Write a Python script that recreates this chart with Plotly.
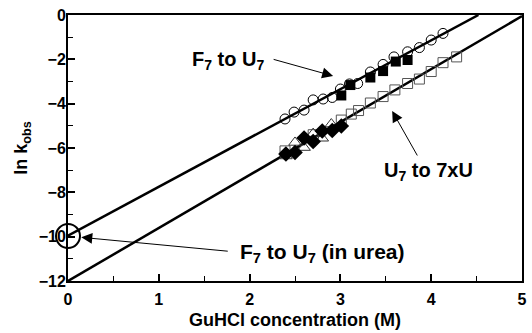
import plotly.graph_objects as go

# ---- data ----
circ_x = [2.39, 2.49, 2.60, 2.70, 2.81, 2.91, 3.00, 3.10, 3.19, 3.33, 3.47, 3.59, 3.74, 3.87, 4.00, 4.13]
circ_y = [-4.69, -4.38, -4.29, -3.83, -3.79, -3.72, -3.34, -3.11, -3.09, -2.57, -2.23, -1.89, -1.66, -1.47, -1.13, -0.83]

fsq_x = [3.01, 3.11, 3.33, 3.47, 3.61, 3.74]
fsq_y = [-3.63, -3.16, -2.82, -2.53, -2.10, -2.03]

osq_x = [2.39, 2.70, 3.01, 3.12, 3.20, 3.33, 3.47, 3.60, 3.74, 3.87, 4.00, 4.13, 4.28]
osq_y = [-6.13, -5.40, -4.74, -4.47, -4.31, -3.97, -3.68, -3.38, -3.09, -2.89, -2.55, -2.15, -1.89]

dia_x = [2.40, 2.50, 2.60, 2.70, 2.80, 2.91, 3.01]
dia_y = [-6.27, -6.20, -5.55, -5.71, -5.23, -5.21, -5.01]

tri_x = [2.40, 2.50, 2.60, 2.70, 2.80, 2.90]
tri_y = [-6.36, -5.75, -5.98, -5.35, -5.56, -4.92]

fit1_x = [0.0, 4.52]
fit1_y = [-9.95, 0.0]
fit2_x = [0.0, 5.0]
fit2_y = [-12.0, -0.05]

urea_x = [0.0]
urea_y = [-9.97]

x_ticks = [0, 1, 2, 3, 4, 5]
y_ticks = [0, -2, -4, -6, -8, -10, -12]

FONT = "Liberation Sans, Arial, sans-serif"

fig = go.Figure()
fig.add_trace(go.Scatter(x=fit1_x, y=fit1_y, mode="lines", line=dict(color="black", width=2.5), cliponaxis=False))
fig.add_trace(go.Scatter(x=fit2_x, y=fit2_y, mode="lines", line=dict(color="black", width=2.5), cliponaxis=False))
fig.add_trace(go.Scatter(x=circ_x, y=circ_y, mode="markers",
                         marker=dict(symbol="circle-open", size=10, color="black", line=dict(width=1))))
fig.add_trace(go.Scatter(x=fsq_x, y=fsq_y, mode="markers",
                         marker=dict(symbol="square", size=10, color="black")))
fig.add_trace(go.Scatter(x=osq_x, y=osq_y, mode="markers",
                         marker=dict(symbol="square-open", size=10, color="#555555", line=dict(width=1))))
fig.add_trace(go.Scatter(x=tri_x, y=tri_y, mode="markers",
                         marker=dict(symbol="triangle-up-open", size=11, color="#333333", line=dict(width=1))))
fig.add_trace(go.Scatter(x=dia_x, y=dia_y, mode="markers",
                         marker=dict(symbol="diamond", size=12, color="black")))
fig.add_trace(go.Scatter(x=urea_x, y=urea_y, mode="markers", cliponaxis=False,
                         marker=dict(symbol="circle-open", size=24, color="black", line=dict(width=2))))

afont = dict(family=FONT, size=20, color="black", weight="bold")
annos = [
    dict(x=1.34, y=-2.05, text="F<sub>7</sub> to U<sub>7</sub>", xanchor="left", yanchor="middle", showarrow=False, font=afont),
    dict(x=3.46, y=-7.05, text="U<sub>7</sub> to 7xU", xanchor="left", yanchor="middle", showarrow=False, font=afont),
    dict(x=1.87, y=-10.75, text="F<sub>7</sub> to U<sub>7</sub> (in urea)", xanchor="left", yanchor="middle", showarrow=False,
         font=dict(family=FONT, size=21, color="black", weight="bold")),
    dict(x=2.92, y=-2.75, ax=-61, ay=-17, text="", showarrow=True, arrowhead=2, arrowsize=2.2, arrowwidth=1, arrowcolor="black"),
    dict(x=3.57, y=-4.33, ax=26, ay=46, text="", showarrow=True, arrowhead=2, arrowsize=2.2, arrowwidth=1, arrowcolor="black"),
    dict(x=0.146, y=-10.03, ax=148, ay=14, text="", showarrow=True, arrowhead=2, arrowsize=2.2, arrowwidth=1, arrowcolor="black"),
]

fig.update_layout(
    width=532, height=333,
    margin=dict(l=68, r=10, t=15, b=52, autoexpand=False),
    paper_bgcolor="white", plot_bgcolor="white",
    showlegend=False,
    annotations=annos,
    font=dict(family=FONT, color="black"),
)
fig.update_xaxes(
    range=[0, 5], tickvals=x_ticks, ticks="inside", ticklen=7, tickwidth=1.5, tickcolor="black",
    minor=dict(dtick=0.5, ticks="inside", ticklen=5, tickcolor="black", tickwidth=1),
    showline=True, linecolor="black", linewidth=2, mirror=True, showgrid=False, zeroline=False,
    automargin=False, ticklabelstandoff=3,
    tickfont=dict(family=FONT, size=16, color="black", weight="bold"),
    title=dict(text="GuHCl concentration (M)", font=dict(family=FONT, size=18, color="black", weight="bold"), standoff=6),
)
fig.update_yaxes(
    range=[-12, 0], tickvals=y_ticks, ticks="inside", ticklen=7, tickwidth=1.5, tickcolor="black",
    minor=dict(dtick=1, ticks="inside", ticklen=5, tickcolor="black", tickwidth=1),
    showline=True, linecolor="black", linewidth=2, mirror=True, showgrid=False, zeroline=False,
    automargin=False, ticklabelstandoff=-3,
    tickfont=dict(family=FONT, size=16, color="black", weight="bold"),
    title=dict(text="ln k<sub>obs</sub>", font=dict(family=FONT, size=18, color="black", weight="bold"), standoff=6),
)
fig.write_html("out.html", config={"displayModeBar": False},
               post_script="document.body.style.margin='0';document.documentElement.style.margin='0';")
